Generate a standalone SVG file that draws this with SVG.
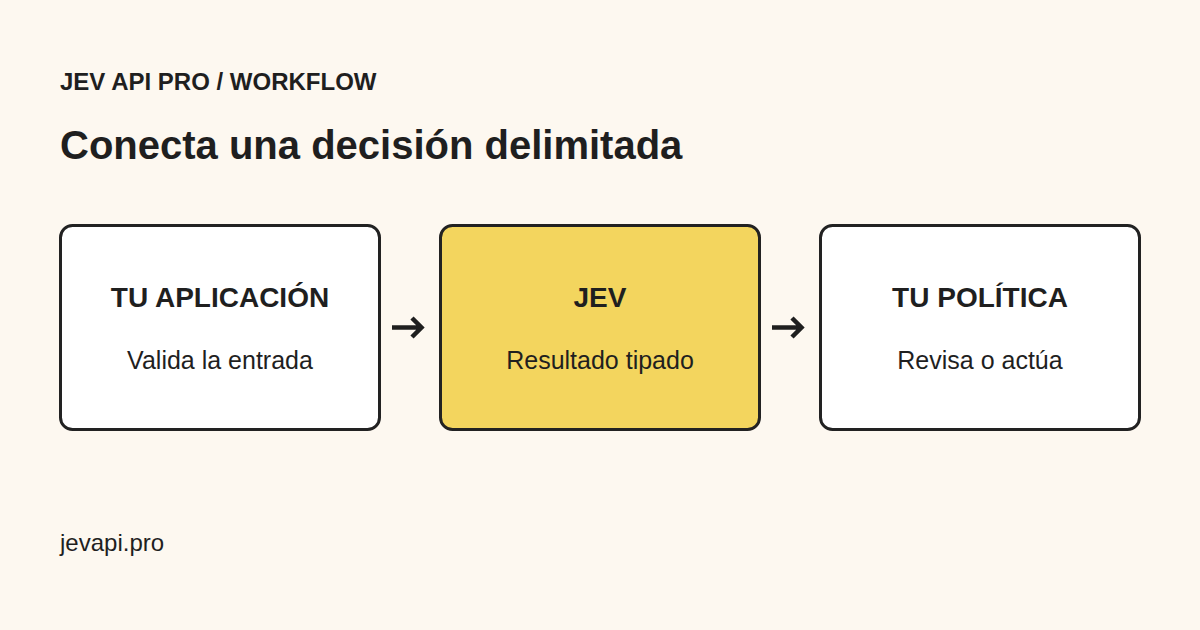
<svg xmlns="http://www.w3.org/2000/svg" width="1200" height="630" viewBox="0 0 1200 630">
<style>
.bg{fill:#fdf8f0}
.box{fill:#ffffff;stroke:#222222;stroke-width:3}
.hl{fill:#f3d55e}
.t{font-family:"Liberation Sans",Arial,sans-serif;fill:#1f1f1f}
.h{font-weight:bold;font-size:28px;text-anchor:middle}
.s{font-size:25px;text-anchor:middle}
.arrow{fill:none;stroke:#1f1f1f;stroke-width:4.5;stroke-linecap:butt;stroke-linejoin:miter}
</style>
<rect class="bg" x="0" y="0" width="1200" height="630"/>
<text class="t" x="60" y="90" font-size="24" font-weight="bold">JEV API PRO / WORKFLOW</text>
<text class="t" x="60" y="159" font-size="40" font-weight="bold">Conecta una decisión delimitada</text>
<g id="node-app">
<rect class="box" x="60.5" y="225.5" width="319" height="204" rx="12"/>
<text class="t h" x="220" y="307">TU APLICACIÓN</text>
<text class="t s" x="220" y="369">Valida la entrada</text>
</g>
<g id="node-jev">
<rect class="box hl" x="440.5" y="225.5" width="319" height="204" rx="12"/>
<text class="t h" x="600" y="307">JEV</text>
<text class="t s" x="600" y="369">Resultado tipado</text>
</g>
<g id="node-policy">
<rect class="box" x="820.5" y="225.5" width="319" height="204" rx="12"/>
<text class="t h" x="980" y="307">TU POLÍTICA</text>
<text class="t s" x="980" y="369">Revisa o actúa</text>
</g>
<g id="connectors">
<path class="arrow" d="M392 327.5H421M412 318L421.5 327.5L412 337"/>
<path class="arrow" d="M772 327.5H801M792 318L801.5 327.5L792 337"/>
</g>
<text class="t" x="60" y="551" font-size="24">jevapi.pro</text>
</svg>
